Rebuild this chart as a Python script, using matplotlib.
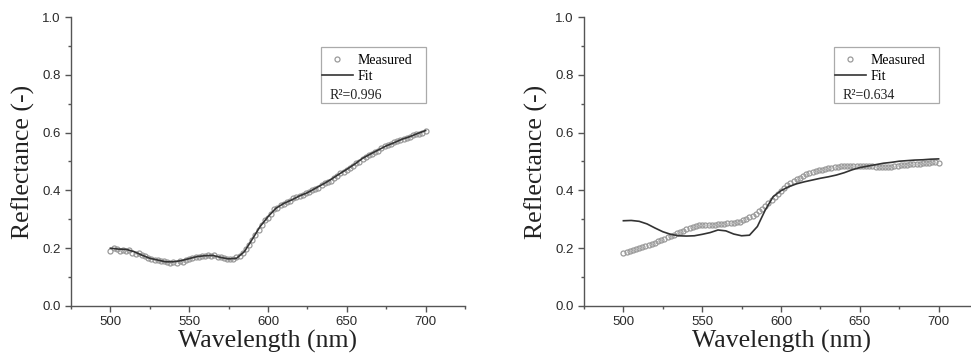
import matplotlib
matplotlib.use("Agg")
import matplotlib.pyplot as plt
import numpy as np
from matplotlib.patches import Rectangle
from matplotlib.lines import Line2D
from matplotlib.ticker import MultipleLocator

# measured spectra, one point every 2 nm from 500 to 700 nm
wl_meas = np.arange(500, 701, 2)
meas_a = [0.192, 0.201, 0.196, 0.190, 0.193, 0.189, 0.194, 0.185, 0.181, 0.183,
          0.176, 0.172, 0.166, 0.164, 0.160, 0.158, 0.156, 0.155, 0.152, 0.149,
          0.152, 0.150, 0.154, 0.152, 0.159, 0.161, 0.166, 0.170, 0.169, 0.172,
          0.174, 0.176, 0.173, 0.176, 0.171, 0.168, 0.166, 0.163, 0.162, 0.163,
          0.168, 0.174, 0.184, 0.196, 0.212, 0.228, 0.247, 0.262, 0.282, 0.296,
          0.306, 0.318, 0.334, 0.340, 0.348, 0.352, 0.360, 0.364, 0.372, 0.378,
          0.380, 0.384, 0.390, 0.394, 0.400, 0.405, 0.410, 0.418, 0.424, 0.430,
          0.434, 0.442, 0.450, 0.459, 0.463, 0.470, 0.478, 0.484, 0.494, 0.500,
          0.508, 0.516, 0.522, 0.525, 0.532, 0.538, 0.546, 0.552, 0.556, 0.560,
          0.566, 0.570, 0.574, 0.577, 0.582, 0.584, 0.590, 0.594, 0.596, 0.598,
          0.604]
meas_b = [0.185, 0.187, 0.190, 0.193, 0.196, 0.200, 0.203, 0.206, 0.210, 0.214,
          0.219, 0.224, 0.228, 0.233, 0.238, 0.242, 0.247, 0.252, 0.257, 0.261,
          0.265, 0.269, 0.273, 0.277, 0.279, 0.280, 0.281, 0.280, 0.280, 0.282,
          0.283, 0.284, 0.285, 0.286, 0.287, 0.288, 0.290, 0.292, 0.296, 0.301,
          0.307, 0.313, 0.319, 0.327, 0.336, 0.346, 0.356, 0.367, 0.378, 0.389,
          0.399, 0.408, 0.417, 0.425, 0.432, 0.438, 0.444, 0.450, 0.456, 0.461,
          0.465, 0.468, 0.470, 0.472, 0.474, 0.476, 0.478, 0.480, 0.482, 0.483,
          0.484, 0.485, 0.486, 0.486, 0.486, 0.486, 0.485, 0.485, 0.484, 0.483,
          0.482, 0.482, 0.481, 0.481, 0.482, 0.482, 0.484, 0.485, 0.487, 0.488,
          0.489, 0.490, 0.491, 0.492, 0.493, 0.494, 0.495, 0.496, 0.497, 0.497,
          0.496]

# fitted curves, every 5 nm
wl_fit = np.arange(500, 701, 5)
fit_a = [0.200, 0.197, 0.196, 0.188, 0.176, 0.165, 0.159, 0.153, 0.153, 0.157,
         0.164, 0.171, 0.174, 0.175, 0.168, 0.163, 0.165, 0.188, 0.231, 0.275,
         0.309, 0.338, 0.355, 0.367, 0.381, 0.392, 0.407, 0.422, 0.438, 0.456,
         0.473, 0.491, 0.511, 0.526, 0.540, 0.554, 0.565, 0.577, 0.586, 0.597,
         0.607]
fit_b = [0.295, 0.296, 0.293, 0.284, 0.270, 0.257, 0.248, 0.243, 0.242, 0.243,
         0.248, 0.254, 0.263, 0.260, 0.249, 0.243, 0.245, 0.275, 0.332, 0.378,
         0.399, 0.413, 0.423, 0.430, 0.436, 0.442, 0.447, 0.453, 0.461, 0.471,
         0.479, 0.484, 0.489, 0.494, 0.497, 0.501, 0.503, 0.505, 0.506, 0.508,
         0.509]

r2_labels = ["R\u00b2=0.996", "R\u00b2=0.634"]

serif = "Liberation Serif"
sans = "Liberation Sans"
axcol = "#555555"

fig = plt.figure(figsize=(9.71, 3.61), dpi=100)
lefts = [71 / 971, 584 / 971]
panels = [(meas_a, fit_a), (meas_b, fit_b)]

for i, (meas, fit) in enumerate(panels):
    ax = fig.add_axes([lefts[i], 55 / 361, 394 / 971, 289 / 361])
    ax.plot(wl_meas, meas, linestyle="none", marker="o", markersize=3.6,
            markerfacecolor="none", markeredgecolor="#9a9a9a", markeredgewidth=0.9)
    ax.plot(wl_fit, fit, color="#333333", linewidth=1.2)

    ax.set_xlim(475, 725)
    ax.set_ylim(0, 1.0)
    ax.set_xticks([500, 550, 600, 650, 700])
    ax.set_yticks([0.0, 0.2, 0.4, 0.6, 0.8, 1.0])
    ax.xaxis.set_minor_locator(MultipleLocator(25))
    ax.yaxis.set_minor_locator(MultipleLocator(0.1))
    for s in ["top", "right"]:
        ax.spines[s].set_visible(False)
    for s in ["left", "bottom"]:
        ax.spines[s].set_color(axcol)
        ax.spines[s].set_linewidth(1.0)
    ax.tick_params(which="major", direction="out", length=4, width=1, color=axcol,
                   labelsize=9.5, labelcolor="#2a2a2a")
    ax.tick_params(which="minor", direction="out", length=2.5, width=1, color=axcol)
    ax.set_xticklabels(["500", "550", "600", "650", "700"], family=sans)
    ax.set_yticklabels(["0.0", "0.2", "0.4", "0.6", "0.8", "1.0"], family=sans)

    ax.set_xlabel("Wavelength (nm)", family=serif, fontsize=18.5, color="#222222", labelpad=1)
    ax.set_ylabel("Reflectance (-)", family=serif, fontsize=18.5, color="#222222", labelpad=5)

    # legend box
    ax.add_patch(Rectangle((0.635, 0.702), 0.266, 0.194, transform=ax.transAxes,
                           facecolor="white", edgecolor="#aaaaaa", linewidth=0.9, zorder=5))
    handles = [Line2D([], [], linestyle="none", marker="o", markersize=3.6,
                      markerfacecolor="none", markeredgecolor="#9a9a9a", markeredgewidth=0.9),
               Line2D([], [], color="#333333", linewidth=1.2)]
    leg = ax.legend(handles, ["Measured", "Fit"], loc="upper left",
                    bbox_to_anchor=(0.63, 0.882), frameon=False,
                    prop={"family": serif, "size": 10}, handlelength=2.2,
                    handletextpad=0.35, labelspacing=0.2, borderpad=0.2,
                    borderaxespad=0)
    leg.set_zorder(6)
    ax.text(0.657, 0.728, r2_labels[i], transform=ax.transAxes, family=serif,
            fontsize=10, va="center", ha="left", color="#222222", zorder=7)

fig.savefig("out.png", dpi=100)
